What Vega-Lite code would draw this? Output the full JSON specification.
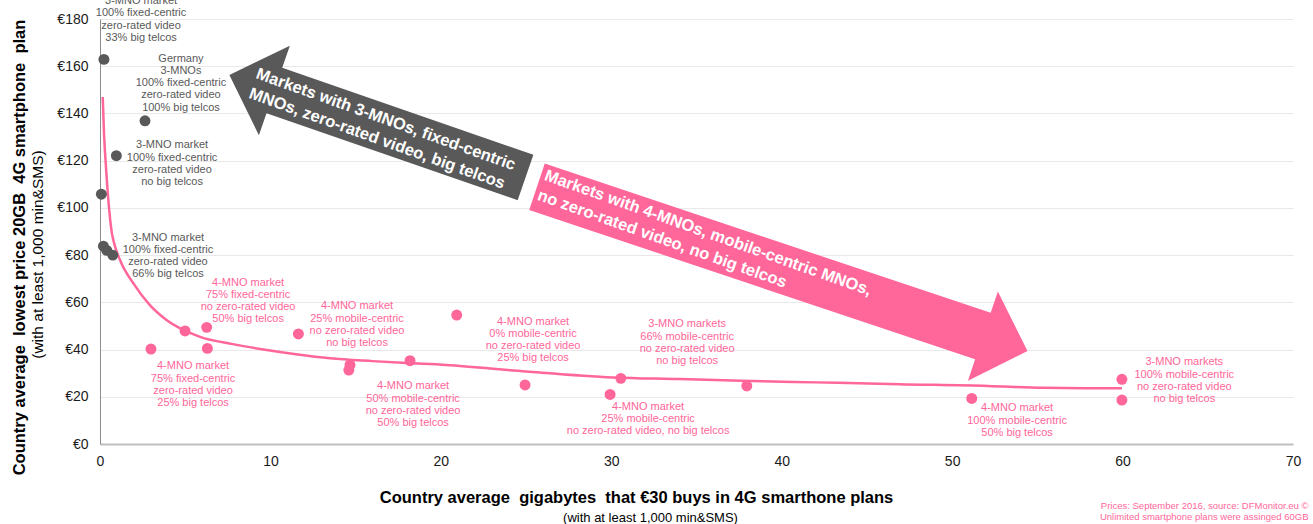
{
  "$schema": "https://vega.github.io/schema/vega-lite/v6.json",
  "autosize": "none",
  "width": 1193,
  "height": 425,
  "padding": {"left": 100, "top": 19, "right": 20, "bottom": 80},
  "config": {"font": "Liberation Sans", "view": {"stroke": null}},
  "datasets": {
    "trend": [
      {"gb": 0.16, "price": 147}, {"gb": 0.235, "price": 131.6}, {"gb": 0.35, "price": 117.4},
      {"gb": 0.49, "price": 103.3}, {"gb": 0.7, "price": 89.2}, {"gb": 0.78, "price": 86.4},
      {"gb": 1.2, "price": 77.5}, {"gb": 1.96, "price": 68}, {"gb": 2.9, "price": 59}, {"gb": 3.9, "price": 52.5},
      {"gb": 5.87, "price": 45.4}, {"gb": 7.8, "price": 42.3}, {"gb": 9.78, "price": 39.8}, {"gb": 11.5, "price": 38},
      {"gb": 13.5, "price": 36.3}, {"gb": 16, "price": 35.1}, {"gb": 18, "price": 34.3}, {"gb": 20.3, "price": 33.5},
      {"gb": 25, "price": 30.7}, {"gb": 30.1, "price": 28.2}, {"gb": 34, "price": 27.5}, {"gb": 37.6, "price": 26.8},
      {"gb": 42, "price": 26.1}, {"gb": 46.9, "price": 25.3}, {"gb": 52.1, "price": 24.6}, {"gb": 55.3, "price": 23.8},
      {"gb": 59.96, "price": 23.6}
    ],
    "markets": [
      {"gb": 0.23, "price": 162.9, "group": "fixed"},
      {"gb": 2.64, "price": 136.9, "group": "fixed"},
      {"gb": 0.96, "price": 122.1, "group": "fixed"},
      {"gb": 0.08, "price": 105.8, "group": "fixed"},
      {"gb": 0.2, "price": 83.8, "group": "fixed"},
      {"gb": 0.4, "price": 82, "group": "fixed"},
      {"gb": 0.75, "price": 80, "group": "fixed"},
      {"gb": 2.99, "price": 40.2, "group": "mobile"},
      {"gb": 4.99, "price": 47.9, "group": "mobile"},
      {"gb": 6.26, "price": 49.4, "group": "mobile"},
      {"gb": 6.3, "price": 40.5, "group": "mobile"},
      {"gb": 11.64, "price": 46.6, "group": "mobile"},
      {"gb": 14.67, "price": 33.5, "group": "mobile"},
      {"gb": 14.6, "price": 31.3, "group": "mobile"},
      {"gb": 18.19, "price": 35.3, "group": "mobile"},
      {"gb": 20.93, "price": 54.6, "group": "mobile"},
      {"gb": 24.94, "price": 25, "group": "mobile"},
      {"gb": 29.93, "price": 21, "group": "mobile"},
      {"gb": 30.56, "price": 27.8, "group": "mobile"},
      {"gb": 37.95, "price": 24.6, "group": "mobile"},
      {"gb": 51.15, "price": 19.3, "group": "mobile"},
      {"gb": 59.96, "price": 27.4, "group": "mobile"},
      {"gb": 59.96, "price": 18.6, "group": "mobile"}
    ],
    "labels": [
      {"gb": 2.41, "price": 190.1, "group": "fixed", "text": "3-MNO market\n100% fixed-centric\nzero-rated video\n33% big telcos"},
      {"gb": 4.75, "price": 165.8, "group": "fixed", "text": "Germany\n3-MNOs\n100% fixed-centric\nzero-rated video\n100% big telcos"},
      {"gb": 4.23, "price": 129.0, "group": "fixed", "text": "3-MNO market\n100% fixed-centric\nzero-rated video\nno big telcos"},
      {"gb": 3.99, "price": 90.0, "group": "fixed", "text": "3-MNO market\n100% fixed-centric\nzero-rated video\n66% big telcos"},
      {"gb": 8.69, "price": 70.9, "group": "mobile", "text": "4-MNO market\n75% fixed-centric\nno zero-rated video\n50% big telcos"},
      {"gb": 5.46, "price": 35.4, "group": "mobile", "text": "4-MNO market\n75% fixed-centric\nzero-rated video\n25% big telcos"},
      {"gb": 15.08, "price": 60.8, "group": "mobile", "text": "4-MNO market\n25% mobile-centric\nno zero-rated video\nno big telcos"},
      {"gb": 18.37, "price": 26.9, "group": "mobile", "text": "4-MNO market\n50% mobile-centric\nno zero-rated video\n50% big telcos"},
      {"gb": 25.41, "price": 54.4, "group": "mobile", "text": "4-MNO market\n0% mobile-centric\nno zero-rated video\n25% big telcos"},
      {"gb": 34.45, "price": 53.2, "group": "mobile", "text": "3-MNO markets\n66% mobile-centric\nno zero-rated video\nno big telcos"},
      {"gb": 32.16, "price": 18.4, "group": "mobile", "text": "4-MNO market\n25% mobile-centric\nno zero-rated video, no big telcos"},
      {"gb": 53.81, "price": 17.6, "group": "mobile", "text": "4-MNO market\n100% mobile-centric\n50% big telcos"},
      {"gb": 63.62, "price": 37.1, "group": "mobile", "text": "3-MNO markets\n100% mobile-centric\nno zero-rated video\nno big telcos"}
    ],
    "arrows": [
      {"gb": 16.28, "price": 134.6, "group": "fixed"},
      {"gb": 40.03, "price": 74.18, "group": "mobile"}
    ],
    "arrowText": [
      {"gb": 9.2, "price": 157.0, "group": "fixed", "text": "Markets with 3-MNOs, fixed-centric\nMNOs, zero-rated video, big telcos"},
      {"gb": 26.12, "price": 113.9, "group": "mobile", "text": "Markets with 4-MNOs, mobile-centric MNOs,\nno zero-rated video, no big telcos"}
    ]
  },
  "layer": [
    {
      "data": {"name": "trend"},
      "mark": {"type": "line", "color": "#ff6699", "strokeWidth": 2.5, "interpolate": "monotone"},
      "encoding": {
        "x": {"field": "gb", "type": "quantitative", "scale": {"domain": [0, 70], "nice": false},
          "axis": {"orient": "bottom", "values": [0, 10, 20, 30, 40, 50, 60, 70], "format": "d", "labelFontSize": 14, "labelColor": "#1a1a1a",
            "labelFlush": false, "labelPadding": 10, "ticks": false, "domainColor": "#bfbfbf", "domainWidth": 2, "grid": false,
            "title": "Country average\u00a0 gigabytes\u00a0 that €30 buys in 4G smarthone plans", "titleFontSize": 16.5,
            "titleFontWeight": "bold", "titleColor": "#000000", "titleX": 536, "titleY": 53,
            "titleBaseline": "middle", "titleAlign": "center"}},
        "y": {"field": "price", "type": "quantitative", "scale": {"domain": [0, 180], "nice": false},
          "axis": {"orient": "left", "values": [0, 20, 40, 60, 80, 100, 120, 140, 160, 180], "labelExpr": "'€' + datum.value",
            "labelFlush": false, "labelFontSize": 14, "labelColor": "#1a1a1a", "labelPadding": 12, "ticks": false,
            "domainColor": "#8c8c8c", "domainWidth": 1, "grid": true, "gridColor": "#e9e9e9",
            "title": "Country average\u00a0 lowest price 20GB\u00a0 4G smartphone\u00a0 plan", "titleFontSize": 16.5,
            "titleFontWeight": "bold", "titleColor": "#000000", "titleX": -81, "titleY": 228,
            "titleAngle": -90, "titleBaseline": "middle", "titleAlign": "center"}}
      }
    },
    {
      "data": {"name": "markets"},
      "mark": {"type": "circle", "size": 120, "opacity": 1},
      "encoding": {
        "x": {"field": "gb", "type": "quantitative",
          "axis": {"orient": "bottom", "labels": false, "ticks": false, "domain": false, "grid": false,
            "title": "(with at least 1,000 min&SMS)", "titleFontSize": 13, "titleFontWeight": "normal",
            "titleColor": "#000000", "titleX": 550, "titleY": 73, "titleBaseline": "middle", "titleAlign": "center"}},
        "y": {"field": "price", "type": "quantitative",
          "axis": {"orient": "left", "labels": false, "ticks": false, "domain": false, "grid": false,
            "title": "(with at least 1,000 min&SMS)", "titleFontSize": 15.5, "titleFontWeight": "normal",
            "titleColor": "#000000", "titleX": -63, "titleY": 235, "titleAngle": -90,
            "titleBaseline": "middle", "titleAlign": "center"}},
        "color": {"field": "group", "type": "nominal",
          "scale": {"domain": ["fixed", "mobile"], "range": ["#595959", "#ff6699"]}, "legend": null}
      }
    },
    {
      "data": {"name": "labels"},
      "mark": {"type": "text", "fontSize": 11, "lineBreak": "\n", "lineHeight": 12.3, "align": "center", "baseline": "top"},
      "encoding": {
        "x": {"field": "gb", "type": "quantitative",
          "axis": {"orient": "bottom", "labels": false, "ticks": false, "domain": false, "grid": false,
            "title": ["Prices: September 2016, source: DFMonitor.eu ©", "Unlimited smartphone plans were assinged 60GB"],
            "titleFont": "Liberation Sans", "titleFontSize": 9.5, "titleFontWeight": "normal",
            "titleColor": "#ff6699", "titleX": 1208, "titleY": 56, "titleBaseline": "top", "titleAlign": "right",
            "titleLineHeight": 11}},
        "y": {"field": "price", "type": "quantitative", "axis": null},
        "text": {"field": "text"},
        "color": {"field": "group", "type": "nominal",
          "scale": {"domain": ["fixed", "mobile"], "range": ["#6b6b6b", "#ff6f9f"]}, "legend": null}
      }
    },
    {
      "data": {"name": "arrows"},
      "transform": [{"filter": "datum.group === 'fixed'"}],
      "mark": {"type": "point", "filled": true, "opacity": 1, "size": 4, "angle": 199.1, "color": "#595959",
        "shape": "M -156.7 -24 L 109.1 -24 L 109.1 -47.3 L 156.7 0 L 109.1 47.3 L 109.1 24 L -156.7 24 Z"},
      "encoding": {
        "x": {"field": "gb", "type": "quantitative", "axis": null},
        "y": {"field": "price", "type": "quantitative", "axis": null}
      }
    },
    {
      "data": {"name": "arrows"},
      "transform": [{"filter": "datum.group === 'mobile'"}],
      "mark": {"type": "point", "filled": true, "opacity": 1, "size": 4, "angle": 18.52, "color": "#ff6699",
        "shape": "M -258.65 -24.5 L 211.65 -24.5 L 211.65 -47 L 258.65 0 L 211.65 47 L 211.65 24.5 L -258.65 24.5 Z"},
      "encoding": {
        "x": {"field": "gb", "type": "quantitative", "axis": null},
        "y": {"field": "price", "type": "quantitative", "axis": null}
      }
    },
    {
      "data": {"name": "arrowText"},
      "transform": [{"filter": "datum.group === 'fixed'"}],
      "mark": {"type": "text", "fontSize": 16.5, "fontWeight": "bold", "color": "#ffffff", "lineBreak": "\n",
        "lineHeight": 21, "align": "left", "baseline": "middle", "angle": 19.7},
      "encoding": {
        "x": {"field": "gb", "type": "quantitative", "axis": null},
        "y": {"field": "price", "type": "quantitative", "axis": null},
        "text": {"field": "text"}
      }
    },
    {
      "data": {"name": "arrowText"},
      "transform": [{"filter": "datum.group === 'mobile'"}],
      "mark": {"type": "text", "fontSize": 16.5, "fontWeight": "bold", "color": "#ffffff", "lineBreak": "\n",
        "lineHeight": 21, "align": "left", "baseline": "middle", "angle": 19.6},
      "encoding": {
        "x": {"field": "gb", "type": "quantitative", "axis": null},
        "y": {"field": "price", "type": "quantitative", "axis": null},
        "text": {"field": "text"}
      }
    }
  ],
  "resolve": {"axis": {"x": "independent", "y": "independent"}}
}
